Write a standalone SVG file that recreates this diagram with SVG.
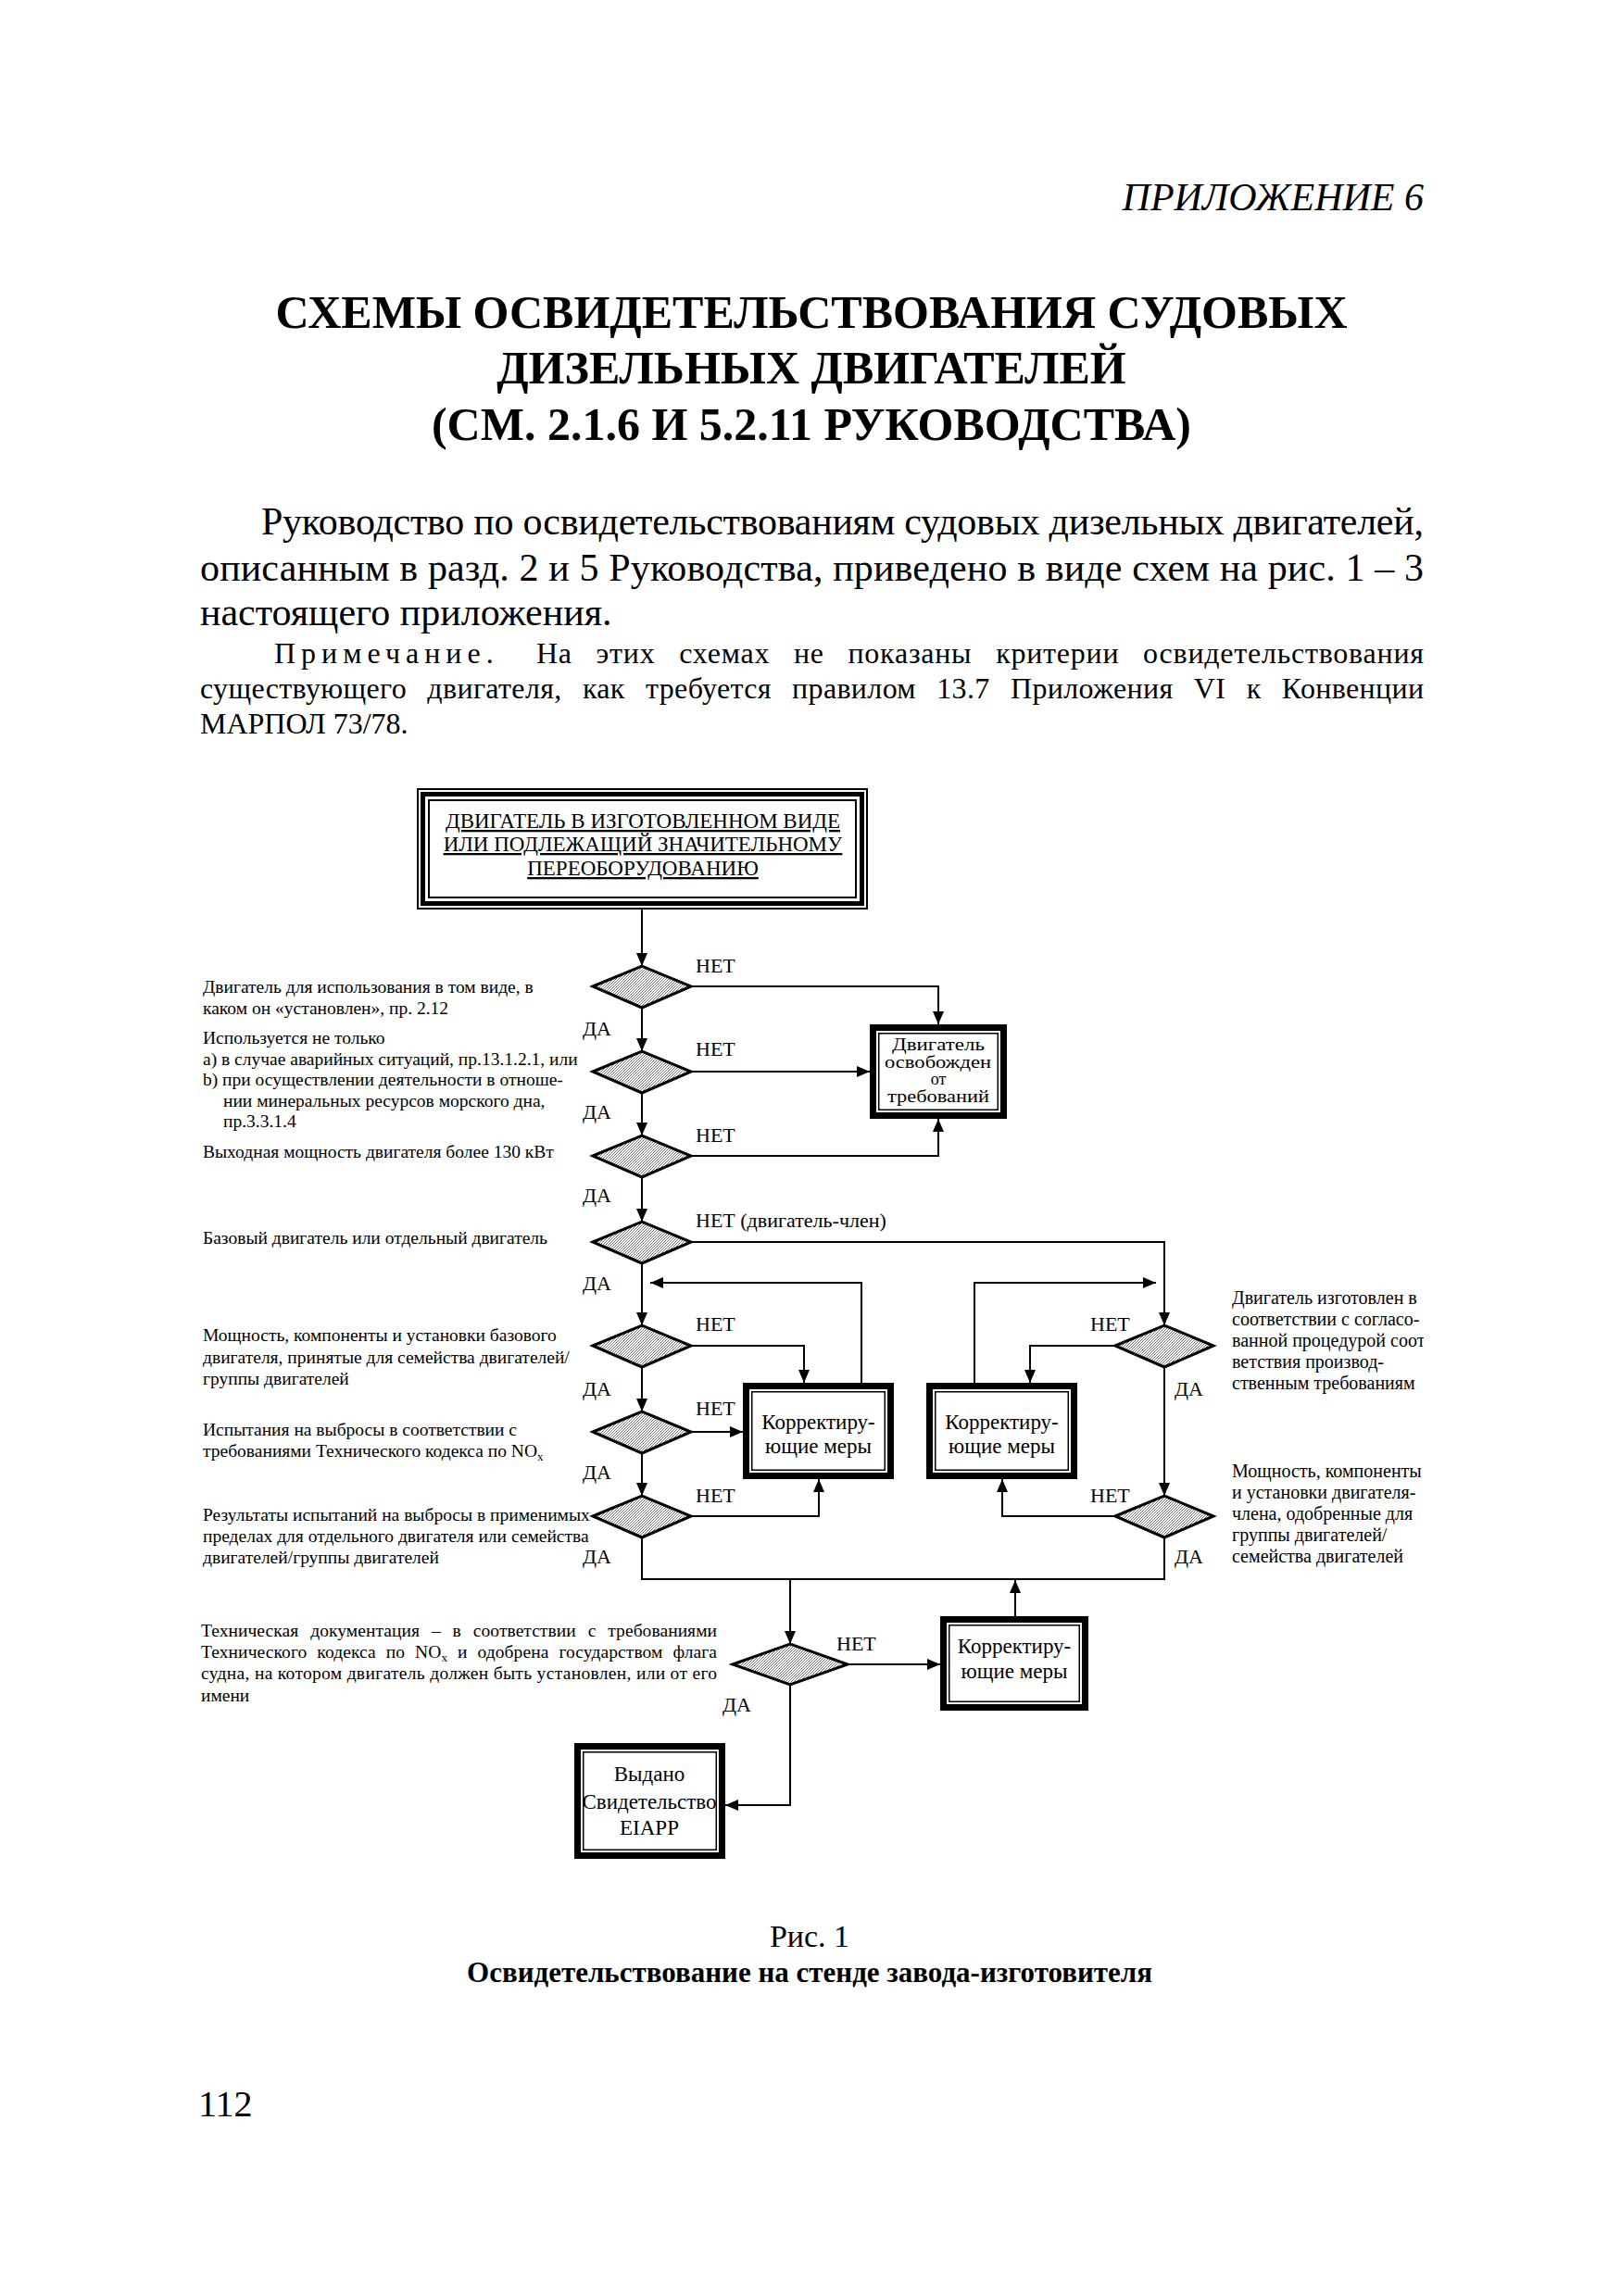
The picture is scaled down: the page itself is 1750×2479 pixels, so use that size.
<svg xmlns="http://www.w3.org/2000/svg" width="1750" height="2479" viewBox="0 0 1750 2479">
<style>
  text { font-family: "Liberation Serif", "Times New Roman", serif; fill: #000; }
  .hdr { font-size: 42px; font-style: italic; }
  .title { font-size: 50px; font-weight: bold; }
  .para { font-size: 42px; }
  .note { font-size: 32px; }
  .lbl { font-size: 19.5px; }
  .rl { font-size: 20px; }
  .yn { font-size: 22px; }
  .top { font-size: 23px; text-decoration: underline; }
  .bx { font-size: 23px; }
  .bxs { font-size: 18px; }
  .cap { font-size: 34px; }
  .capb { font-size: 31px; font-weight: bold; }
  .pg { font-size: 40px; }
  .dia { fill: url(#hatch); stroke: #000; stroke-width: 3; }
  .thick { fill: none; stroke: #000; stroke-width: 7; }
  .thin { fill: none; stroke: #000; stroke-width: 1.5; }
  .con { fill: none; stroke: #000; stroke-width: 2; }
  .arr { marker-end: url(#ah); }
</style>
<defs>
  <pattern id="hatch" patternUnits="userSpaceOnUse" width="3" height="3">
    <rect width="3" height="3" fill="#fff"/>
    <path d="M0,3 L3,0 M-1,1 L1,-1 M2,4 L4,2" stroke="#666" stroke-width="0.9"/>
  </pattern>
  <marker id="ah" markerUnits="userSpaceOnUse" markerWidth="16" markerHeight="14" refX="14" refY="6" orient="auto">
    <path d="M0,0 L14,6 L0,12 Z" fill="#000"/>
  </marker>
  <clipPath id="pageclip"><rect x="0" y="0" width="1537" height="2479"/></clipPath>
</defs>
<rect width="1750" height="2479" fill="#fff"/>

<!-- page header and intro -->
<text class="hdr" x="1537" y="227" text-anchor="end">ПРИЛОЖЕНИЕ 6</text>
<text class="title" x="876" y="354" text-anchor="middle">СХЕМЫ ОСВИДЕТЕЛЬСТВОВАНИЯ СУДОВЫХ</text>
<text class="title" x="876" y="414" text-anchor="middle">ДИЗЕЛЬНЫХ ДВИГАТЕЛЕЙ</text>
<text class="title" x="876" y="475" text-anchor="middle">(СМ. 2.1.6 И 5.2.11 РУКОВОДСТВА)</text>

<text class="para" x="282" y="577" textLength="1255" lengthAdjust="spacing">Руководство по освидетельствованиям судовых дизельных двигателей,</text>
<text class="para" x="216" y="627" textLength="1321" lengthAdjust="spacing">описанным в разд. 2 и 5 Руководства, приведено в виде схем на рис. 1 – 3</text>
<text class="para" x="216" y="675">настоящего приложения.</text>

<text class="note" x="296" y="716" letter-spacing="6">Примечание.</text>
<text class="note" x="579" y="716" word-spacing="17" textLength="958" lengthAdjust="spacing">На этих схемах не показаны критерии освидетельствования</text>
<text class="note" x="216" y="754" word-spacing="14" textLength="1321" lengthAdjust="spacing">существующего двигателя, как требуется правилом 13.7 Приложения VI к Конвенции</text>
<text class="note" x="216" y="792">МАРПОЛ 73/78.</text>

<!-- connectors -->
<g id="connectors">
  <polyline class="con arr" points="693,982 693,1043"/>
  <polyline class="con arr" points="747,1065 1013,1065 1013,1106"/>
  <polyline class="con arr" points="693,1088 693,1135"/>
  <polyline class="con arr" points="747,1157 939,1157"/>
  <polyline class="con arr" points="693,1180 693,1226"/>
  <polyline class="con arr" points="747,1248 1013,1248 1013,1208"/>
  <polyline class="con arr" points="693,1271 693,1319"/>
  <polyline class="con arr" points="747,1341 1257,1341 1257,1431"/>
  <polyline class="con arr" points="693,1364 693,1431"/>
  <polyline class="con arr" points="930,1493 930,1385 702,1385"/>
  <polyline class="con arr" points="747,1453 868,1453 868,1493"/>
  <polyline class="con arr" points="693,1476 693,1524"/>
  <polyline class="con arr" points="747,1546 802,1546"/>
  <polyline class="con arr" points="693,1569 693,1615"/>
  <polyline class="con arr" points="747,1637 884,1637 884,1597"/>
  <polyline class="con" points="693,1660 693,1705 1257,1705 1257,1660"/>
  <polyline class="con arr" points="853,1705 853,1775"/>
  <polyline class="con arr" points="1096,1745 1096,1706"/>
  <polyline class="con arr" points="915,1797 1015,1797"/>
  <polyline class="con arr" points="853,1819 853,1949 783,1949"/>
  <polyline class="con arr" points="1052,1493 1052,1385 1248,1385"/>
  <polyline class="con arr" points="1204,1453 1112,1453 1112,1493"/>
  <polyline class="con arr" points="1257,1476 1257,1615"/>
  <polyline class="con arr" points="1204,1637 1082,1637 1082,1597"/>
</g>

<!-- top box -->
<g id="n-start">
  <rect x="451" y="852" width="485" height="129" fill="#fff" stroke="#000" stroke-width="2"/>
  <rect x="456.5" y="857.5" width="474" height="118" fill="none" stroke="#000" stroke-width="5"/>
  <rect x="463" y="864" width="461" height="105" fill="none" stroke="#000" stroke-width="2"/>
  <text class="top" x="694" y="894" text-anchor="middle">ДВИГАТЕЛЬ В ИЗГОТОВЛЕННОМ ВИДЕ</text>
  <text class="top" x="694" y="919" text-anchor="middle">ИЛИ ПОДЛЕЖАЩИЙ ЗНАЧИТЕЛЬНОМУ</text>
  <text class="top" x="694" y="945" text-anchor="middle">ПЕРЕОБОРУДОВАНИЮ</text>
</g>

<!-- diamonds, left column -->
<g id="d1"><polygon class="dia" points="640,1065 693,1043 746,1065 693,1088"/>
  <text class="lbl" x="219" y="1072">Двигатель для использования в том виде, в</text>
  <text class="lbl" x="219" y="1095">каком он «установлен», пр. 2.12</text>
</g>
<g id="d2"><polygon class="dia" points="640,1157 693,1135 746,1157 693,1180"/>
  <text class="lbl" x="219" y="1127">Используется не только</text>
  <text class="lbl" x="219" y="1150">a) в случае аварийных ситуаций, пр.13.1.2.1, или</text>
  <text class="lbl" x="219" y="1172">b) при осуществлении деятельности в отноше-</text>
  <text class="lbl" x="241" y="1195">нии минеральных ресурсов морского дна,</text>
  <text class="lbl" x="241" y="1217">пр.3.3.1.4</text>
</g>
<g id="d3"><polygon class="dia" points="640,1248 693,1226 746,1248 693,1271"/>
  <text class="lbl" x="219" y="1250">Выходная мощность двигателя более 130 кВт</text>
</g>
<g id="d4"><polygon class="dia" points="640,1341 693,1319 746,1341 693,1364"/>
  <text class="lbl" x="219" y="1343">Базовый двигатель или отдельный двигатель</text>
</g>
<g id="d5"><polygon class="dia" points="640,1453 693,1431 746,1453 693,1476"/>
  <text class="lbl" x="219" y="1448">Мощность, компоненты и установки базового</text>
  <text class="lbl" x="219" y="1472">двигателя, принятые для семейства двигателей/</text>
  <text class="lbl" x="219" y="1495">группы двигателей</text>
</g>
<g id="d6"><polygon class="dia" points="640,1546 693,1524 746,1546 693,1569"/>
  <text class="lbl" x="219" y="1550">Испытания на выбросы в соответствии с</text>
  <text class="lbl" x="219" y="1573">требованиями Технического кодекса по NO<tspan font-size="13" dy="4">x</tspan></text>
</g>
<g id="d7"><polygon class="dia" points="640,1637 693,1615 746,1637 693,1660"/>
  <text class="lbl" x="219" y="1642">Результаты испытаний на выбросы в применимых</text>
  <text class="lbl" x="219" y="1665">пределах для отдельного двигателя или семейства</text>
  <text class="lbl" x="219" y="1688">двигателей/группы двигателей</text>
</g>

<!-- right column diamonds -->
<g id="d9"><polygon class="dia" points="1204,1453 1257,1431 1310,1453 1257,1476"/>
  <g clip-path="url(#pageclip)">
  <text class="rl" x="1330" y="1408">Двигатель изготовлен в</text>
  <text class="rl" x="1330" y="1431">соответствии с согласо-</text>
  <text class="rl" x="1330" y="1454">ванной процедурой соот</text>
  <text class="rl" x="1330" y="1477">ветствия производ-</text>
  <text class="rl" x="1330" y="1500">ственным требованиям</text>
  </g>
</g>
<g id="d10"><polygon class="dia" points="1204,1637 1257,1615 1310,1637 1257,1660"/>
  <g clip-path="url(#pageclip)">
  <text class="rl" x="1330" y="1595">Мощность, компоненты</text>
  <text class="rl" x="1330" y="1618">и установки двигателя-</text>
  <text class="rl" x="1330" y="1641">члена, одобренные для</text>
  <text class="rl" x="1330" y="1664">группы двигателей/</text>
  <text class="rl" x="1330" y="1687">семейства двигателей</text>
  </g>
</g>

<!-- documentation diamond -->
<g id="d8"><polygon class="dia" points="791,1797 853,1775 915,1797 853,1819"/>
  <text class="lbl" x="217" y="1767" word-spacing="8" textLength="557" lengthAdjust="spacing">Техническая документация – в соответствии с требованиями</text>
  <text class="lbl" x="217" y="1790" word-spacing="6" textLength="557" lengthAdjust="spacing">Технического кодекса по NO<tspan font-size="13" dy="4">x</tspan><tspan dy="-4"> и одобрена государством флага</tspan></text>
  <text class="lbl" x="217" y="1813" textLength="557" lengthAdjust="spacing">судна, на котором двигатель должен быть установлен, или от его</text>
  <text class="lbl" x="217" y="1837">имени</text>
</g>

<!-- yes/no labels -->
<g id="labels">
  <text class="yn" x="751" y="1050">НЕТ</text>
  <text class="yn" x="751" y="1140">НЕТ</text>
  <text class="yn" x="751" y="1233">НЕТ</text>
  <text class="yn" x="751" y="1325">НЕТ (двигатель-член)</text>
  <text class="yn" x="751" y="1437">НЕТ</text>
  <text class="yn" x="751" y="1528">НЕТ</text>
  <text class="yn" x="751" y="1622">НЕТ</text>
  <text class="yn" x="1177" y="1437">НЕТ</text>
  <text class="yn" x="1177" y="1622">НЕТ</text>
  <text class="yn" x="903" y="1782">НЕТ</text>
  <text class="yn" x="629" y="1118">ДА</text>
  <text class="yn" x="629" y="1208">ДА</text>
  <text class="yn" x="629" y="1298">ДА</text>
  <text class="yn" x="629" y="1393">ДА</text>
  <text class="yn" x="629" y="1507">ДА</text>
  <text class="yn" x="629" y="1597">ДА</text>
  <text class="yn" x="629" y="1688">ДА</text>
  <text class="yn" x="1268" y="1507">ДА</text>
  <text class="yn" x="1268" y="1688">ДА</text>
  <text class="yn" x="780" y="1848">ДА</text>
</g>

<!-- boxes -->
<g id="b-exempt">
  <rect x="942.5" y="1109.5" width="141" height="95" fill="#fff" class="thick"/>
  <rect x="948.75" y="1115.75" width="128.5" height="82.5" class="thin"/>
  <text class="bxs" x="963" y="1134" textLength="100" lengthAdjust="spacingAndGlyphs">Двигатель</text>
  <text class="bxs" x="955" y="1153" textLength="115" lengthAdjust="spacingAndGlyphs">освобожден</text>
  <text class="bxs" x="1013" y="1171" text-anchor="middle">от</text>
  <text class="bxs" x="958" y="1190" textLength="110" lengthAdjust="spacingAndGlyphs">требований</text>
</g>
<g id="b-corr1">
  <rect x="805.5" y="1496.5" width="156" height="97" fill="#fff" class="thick"/>
  <rect x="811.75" y="1502.75" width="143.5" height="84.5" class="thin"/>
  <text class="bx" x="883.5" y="1543" text-anchor="middle">Корректиру-</text>
  <text class="bx" x="883.5" y="1569" text-anchor="middle">ющие меры</text>
</g>
<g id="b-corr2">
  <rect x="1003.5" y="1496.5" width="156" height="97" fill="#fff" class="thick"/>
  <rect x="1009.75" y="1502.75" width="143.5" height="84.5" class="thin"/>
  <text class="bx" x="1081.5" y="1543" text-anchor="middle">Корректиру-</text>
  <text class="bx" x="1081.5" y="1569" text-anchor="middle">ющие меры</text>
</g>
<g id="b-corr3">
  <rect x="1018.5" y="1748.5" width="153" height="95" fill="#fff" class="thick"/>
  <rect x="1024.75" y="1754.75" width="140.5" height="82.5" class="thin"/>
  <text class="bx" x="1095" y="1785" text-anchor="middle">Корректиру-</text>
  <text class="bx" x="1095" y="1812" text-anchor="middle">ющие меры</text>
</g>
<g id="b-eiapp">
  <rect x="623.5" y="1885.5" width="156" height="118" fill="#fff" class="thick"/>
  <rect x="629.75" y="1891.75" width="143.5" height="105.5" class="thin"/>
  <text class="bx" x="701" y="1923" text-anchor="middle">Выдано</text>
  <text class="bx" x="701" y="1953" text-anchor="middle">Свидетельство</text>
  <text class="bx" x="701" y="1981" text-anchor="middle">EIAPP</text>
</g>

<!-- caption -->
<text class="cap" x="874" y="2102" text-anchor="middle">Рис. 1</text>
<text class="capb" x="874" y="2140" text-anchor="middle">Освидетельствование на стенде завода-изготовителя</text>
<text class="pg" x="214" y="2285">112</text>
</svg>
